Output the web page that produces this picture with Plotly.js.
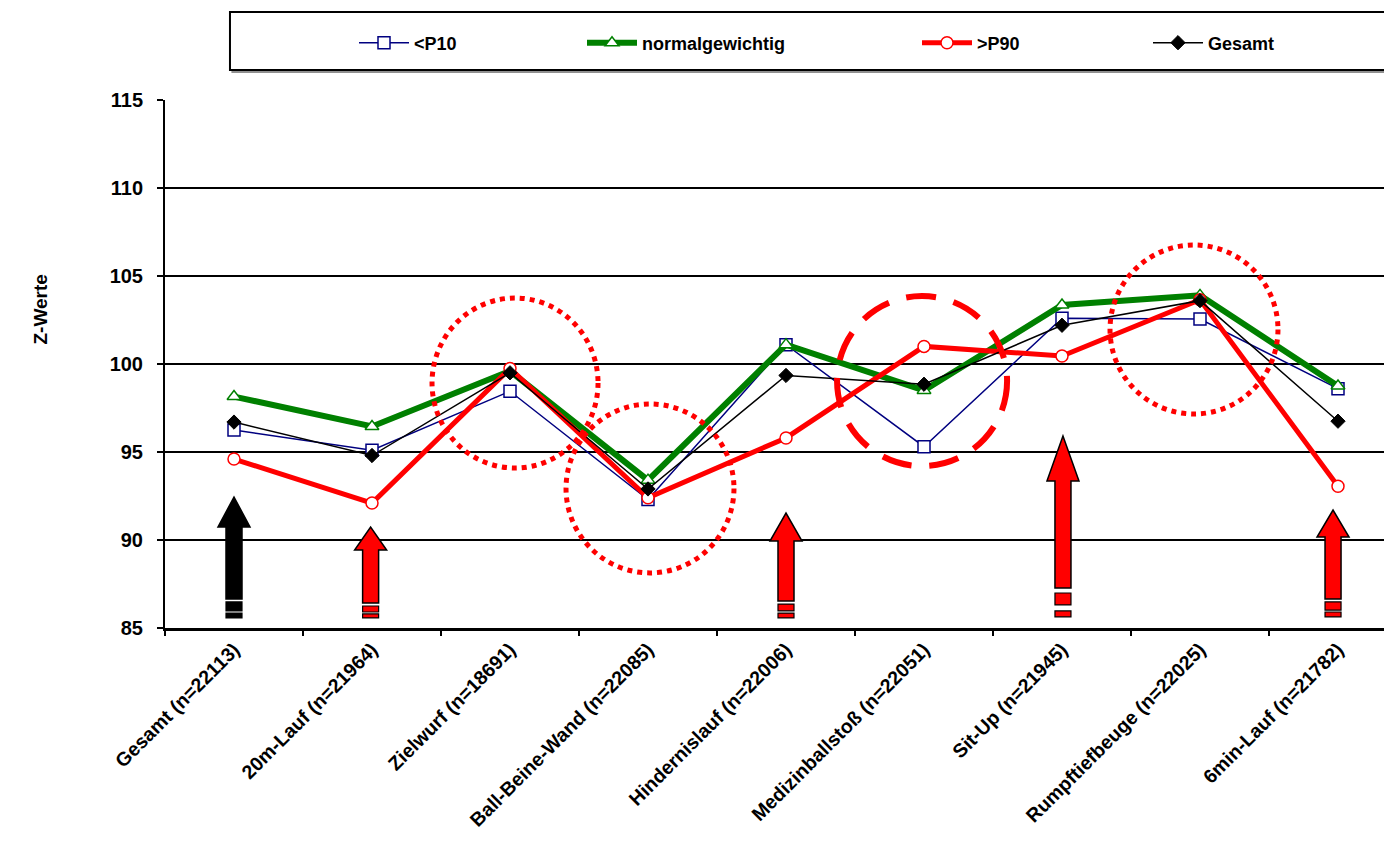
<!DOCTYPE html>
<html><head><meta charset="utf-8">
<script src="https://cdn.plot.ly/plotly-3.0.1.min.js"></script>
<style>html,body{margin:0;padding:0;background:#fff}#chart{width:1384px;height:845px}</style>
</head><body><div id="chart"></div>
<script>
// ---------- data ----------
const categories = ["Gesamt (n=22113)","20m-Lauf (n=21964)","Zielwurf (n=18691)","Ball-Beine-Wand (n=22085)","Hindernislauf (n=22006)","Medizinballstoß (n=22051)","Sit-Up (n=21945)","Rumpftiefbeuge (n=22025)","6min-Lauf (n=21782)"];
const seriesNames = ["<P10","normalgewichtig",">P90","Gesamt"];
const p10     = [96.25, 95.1, 98.45, 92.3, 101.1, 95.3, 102.6, 102.55, 98.6];
const normal  = [98.15, 96.45, 99.6, 93.4, 101.1, 98.5, 103.35, 103.9, 98.75];
const p90     = [94.6, 92.1, 99.75, 92.4, 95.8, 101.0, 100.45, 103.65, 93.05];
const gesamt  = [96.7, 94.8, 99.5, 92.9, 99.35, 98.85, 102.2, 103.6, 96.75];
const yTicks  = [85, 90, 95, 100, 105, 110, 115];
const yTitle  = "Z-Werte";

// ---------- styles ----------
const FONT = 'Arial, "Liberation Sans", sans-serif';
const styles = [
  {color:'#000080', width:1.5, symbol:'square', size:12, fill:'#ffffff', lw:1.5},
  {color:'#008000', width:6,   symbol:'triangle-up', size:12, fill:'#ffffff', lw:1.5},
  {color:'#ff0000', width:5,   symbol:'circle', size:12, fill:'#ffffff', lw:1.5},
  {color:'#000000', width:1.5, symbol:'diamond', size:11, fill:'#000000', lw:1}
];
const seriesValues = [p10, normal, p90, gesamt];
const legendIds = ['legend','legend2','legend3','legend4'];
const legendX = [354, 582, 917, 1148];   // px (container)

const traces = seriesValues.map((vals, i) => ({
  type:'scatter', mode:'lines+markers', name: seriesNames[i],
  x: categories, y: vals, legend: legendIds[i],
  line:{color: styles[i].color, width: styles[i].width},
  marker:{symbol: styles[i].symbol, size: styles[i].size, color: styles[i].fill,
          line:{color: styles[i].color, width: styles[i].lw}},
  cliponaxis:false
}));

// ---------- annotation shapes (circles & arrows) ----------
const circles = [
  {x0:1.435, x1:2.638, y0:94.09, y1:103.75, dash:'dot', w:5},
  {x0:2.406, x1:3.623, y0:88.13, y1:97.73, dash:'dot', w:5},
  {x0:4.370, x1:5.602, y0:94.2,  y1:103.86, dash:'30px,18px', w:6},
  {x0:6.348, x1:7.565, y0:97.16, y1:106.76, dash:'dot', w:5}
];
const arrows = [
  {x:0,     tip:92.44, base:90.74, bottom:86.65, r1:[86.48,85.97], r2:[85.85,85.57], fill:'#000000'},
  {x:0.99,  tip:90.74, base:89.43, bottom:86.42, r1:[86.25,85.91], r2:[85.80,85.57], fill:'#ff0000'},
  {x:4.0,   tip:91.53, base:89.94, bottom:86.53, r1:[86.36,85.97], r2:[85.85,85.57], fill:'#ff0000'},
  {x:6.007, tip:95.91, base:93.35, bottom:87.27, r1:[86.99,86.31], r2:[85.97,85.63], fill:'#ff0000'},
  {x:7.964, tip:91.70, base:90.17, bottom:86.65, r1:[86.48,86.02], r2:[85.91,85.63], fill:'#ff0000'}
];
const HW = 0.116, SW = 0.058;

const shapes = [];
// legend box with shadow
shapes.push({type:'rect', xref:'paper', yref:'paper', x0:0.0553, x1:1.02, y0:1.0530, y1:1.1640,
  line:{color:'#909090', width:2}, fillcolor:'#909090', layer:'above'});
shapes.push({type:'rect', xref:'paper', yref:'paper', x0:0.0533, x1:1.02, y0:1.0568, y1:1.1667,
  line:{color:'#000000', width:2}, fillcolor:'#ffffff', layer:'above'});

circles.forEach(c => shapes.push({type:'circle', xref:'x', yref:'y', x0:c.x0, x1:c.x1, y0:c.y0, y1:c.y1,
  line:{color:'#ff0000', width:c.w, dash:c.dash}, layer:'above'}));

arrows.forEach(a => {
  const x = a.x;
  const path = `M${x-SW},${a.bottom} L${x-SW},${a.base} L${x-HW},${a.base} L${x},${a.tip} L${x+HW},${a.base} L${x+SW},${a.base} L${x+SW},${a.bottom} Z`;
  shapes.push({type:'path', xref:'x', yref:'y', path:path, fillcolor:a.fill, line:{color:'#000', width:1.5}, layer:'above'});
  [a.r1, a.r2].forEach(r => shapes.push({type:'rect', xref:'x', yref:'y', x0:x-SW, x1:x+SW, y0:r[1], y1:r[0],
    fillcolor:a.fill, line:{color:'#000', width:1.2}, layer:'above'}));
});

const layout = {
  width:1384, height:845,
  margin:{l:165, r:0, t:100, b:217, pad:0},
  paper_bgcolor:'#ffffff', plot_bgcolor:'#ffffff',
  font:{family:FONT, color:'#000', weight:'bold', size:18},
  xaxis:{type:'category', range:[-0.5, 8.5 - 23/138], tickson:'boundaries', ticks:'outside', ticklen:5,
         tickwidth:1.5, tickcolor:'#000', showline:true, linecolor:'#000', linewidth:2.5, showgrid:false,
         zeroline:false, tickangle:-45, tickfont:{family:FONT, size:19.5, weight:'bold', color:'#000'}, fixedrange:true},
  yaxis:{range:[85,115], tickmode:'array', tickvals:yTicks, ticks:'outside', ticklen:6, tickwidth:1.5, tickcolor:'#000',
         showline:true, linecolor:'#000', linewidth:2, showgrid:true, gridcolor:'#000', gridwidth:1.5,
         zeroline:false, ticklabelstandoff:10, tickfont:{family:FONT, size:20, weight:'bold', color:'#000'}, fixedrange:true},
  shapes: shapes,
  annotations:[{text:yTitle, xref:'paper', yref:'paper', x:(27-165)/1219, y:(628-310)/528, showarrow:false,
    textangle:-90, font:{family:FONT, size:19, weight:'bold', color:'#000'}}],
  showlegend:true
};
legendIds.forEach((id, i) => {
  layout[id] = {xref:'container', yref:'container', x: legendX[i]/1384, y: 1 - 43/845, xanchor:'left', yanchor:'middle',
    bgcolor:'rgba(0,0,0,0)', borderwidth:0, orientation:'h', itemwidth:50,
    font:{family:FONT, size:18, weight:'bold', color:'#000'}};
});

Plotly.newPlot('chart', traces, layout, {displayModeBar:false, staticPlot:true});
</script>
</body></html>
